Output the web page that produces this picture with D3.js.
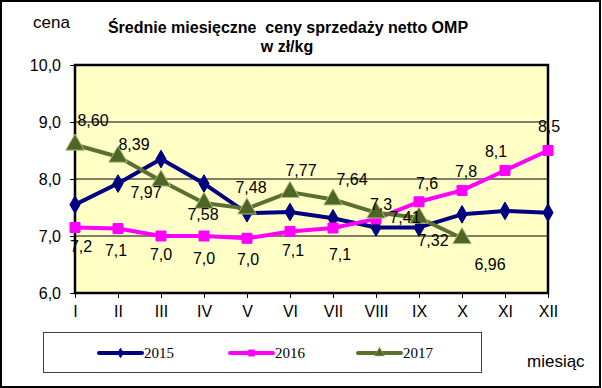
<!DOCTYPE html>
<html>
<head>
<meta charset="utf-8">
<script src="https://cdnjs.cloudflare.com/ajax/libs/d3/7.8.5/d3.min.js"></script>
<style>
  body { margin: 0; background: #fff; }
  svg { display: block; font-family: "Liberation Sans", Arial, sans-serif; }
</style>
</head>
<body>
<div id="chart"></div>
<script>
// data
var months = ["I", "II", "III", "IV", "V", "VI", "VII", "VIII", "IX", "X", "XI", "XII"]
var v2015 = [7.55, 7.92, 8.35, 7.92, 7.40, 7.42, 7.31, 7.15, 7.15, 7.38, 7.44, 7.41]
var v2016 = [7.15, 7.13, 7.0, 7.0, 6.96, 7.08, 7.14, 7.3, 7.6, 7.8, 8.15, 8.5]
var v2017 = [8.60, 8.39, 7.97, 7.58, 7.48, 7.77, 7.64, 7.41, 7.32, 6.96]
var lab2016 = ["7,2", "7,1", "7,0", "7,0", "7,0", "7,1", "7,1", "7,3", "7,6", "7,8", "8,1", "8,5"]
var lab2017 = ["8,60", "8,39", "7,97", "7,58", "7,48", "7,77", "7,64", "7,41", "7,32", "6,96"]
var yTicks = [6, 7, 8, 9, 10]

// label offsets (placement only)
var off2016 = [[6,19],[-2,22],[0,18],[0,22],[1,21],[3,19],[7,26],[5,-15],[8,-18],[4,-19],[-9,-19],[1,-24]]
var off2017 = [[18,-24],[16,-12],[-15,12],[-1,11],[4,-21],[11,-22],[19,-20],[29,5],[14,23],[28,26]]

var width = 602, height = 388
var svg = d3.select("#chart").append("svg").attr("width", width).attr("height", height)

// outer frame
svg.append("rect").attr("x", 1).attr("y", 1).attr("width", 599).attr("height", 386)
    .style("fill", "#fff").style("stroke", "#000").style("stroke-width", 2)

var x = d3.scalePoint().domain(months).range([75, 548])
var y = d3.scaleLinear().domain([6, 10]).range([293, 65])

// plot area
svg.append("rect").attr("x", 75).attr("y", y(10)).attr("width", 473).attr("height", y(6) - y(10))
    .style("fill", "#FFFFC6")

svg.selectAll(".grid").data(yTicks.slice(1, -1)).join("line")
    .attr("x1", 75).attr("x2", 548).attr("y1", d => y(d)).attr("y2", d => y(d))
    .style("stroke", "#000").style("stroke-width", 1)

svg.append("rect").attr("x", 75).attr("y", y(10)).attr("width", 473).attr("height", y(6) - y(10))
    .style("fill", "none").style("stroke", "#000").style("stroke-width", 2.5)

// axes
var fmt = d => d3.format(".1f")(d).replace(".", ",")
var yAxis = svg.append("g").attr("transform", "translate(75,0)")
    .call(d3.axisLeft(y).tickValues(yTicks).tickFormat(fmt).tickSize(5).tickPadding(9))
yAxis.select(".domain").remove()
yAxis.selectAll("line").style("stroke", "#000")
yAxis.selectAll("text").style("font-size", "16px").style("fill", "#000").style("font-family", "Liberation Sans, Arial")

var xAxis = svg.append("g").attr("transform", "translate(0,293)")
    .call(d3.axisBottom(x).tickSize(5).tickPadding(8))
xAxis.select(".domain").remove()
xAxis.selectAll("line").style("stroke", "#000")
xAxis.selectAll("text").style("font-size", "16px").style("fill", "#000").style("font-family", "Liberation Sans, Arial")

// series
var line = d3.line().x((d, i) => x(months[i])).y(d => y(d))

function drawSeries(vals, color, marker, mfill, mstroke) {
    svg.append("path").datum(vals).attr("d", line)
        .style("fill", "none").style("stroke", color).style("stroke-width", 4).style("stroke-linejoin", "round")
    svg.selectAll(null).data(vals).join("path")
        .attr("transform", (d, i) => "translate(" + x(months[i]) + "," + y(d) + ")")
        .attr("d", marker)
        .style("fill", mfill).style("stroke", mstroke).style("stroke-width", 1)
}

var diamond = d3.symbol().type(d3.symbolDiamond).size(90)()
var square = d3.symbol().type(d3.symbolSquare).size(100)()
var triangle = d3.symbol().type(d3.symbolTriangle).size(150)()

drawSeries(v2015, "#000080", diamond, "#000080", "#000080")
drawSeries(v2016, "#FF00FF", square, "#FF00FF", "#FF00FF")
drawSeries(v2017, "#5B7030", triangle, "#4F6425", "#A8C27A")

function drawLabels(vals, labs, offs) {
    svg.selectAll(null).data(vals).join("text")
        .attr("x", (d, i) => x(months[i]) + offs[i][0])
        .attr("y", (d, i) => y(d) + offs[i][1])
        .attr("dy", "0.35em")
        .attr("text-anchor", "middle")
        .style("font-size", "16px").style("fill", "#000")
        .text((d, i) => labs[i])
}
drawLabels(v2016, lab2016, off2016)
drawLabels(v2017, lab2017, off2017)

// titles
svg.append("text").attr("x", 288).attr("y", 33).attr("text-anchor", "middle")
    .style("font-size", "16px").style("font-weight", "bold").attr("xml:space", "preserve")
    .text("Średnie miesięczne  ceny sprzedaży netto OMP")
svg.append("text").attr("x", 287).attr("y", 52).attr("text-anchor", "middle")
    .style("font-size", "16px").style("font-weight", "bold")
    .text("w zł/kg")
svg.append("text").attr("x", 33).attr("y", 28).style("font-size", "17px").text("cena")
svg.append("text").attr("x", 527).attr("y", 367).style("font-size", "17px").text("miesiąc")

// legend
svg.append("rect").attr("x", 43.5).attr("y", 332.5).attr("width", 438).attr("height", 40)
    .style("fill", "#fff").style("stroke", "#404040").style("stroke-width", 1)

var legItems = [
    {name: "2015", color: "#000080", x0: 99, marker: d3.symbol().type(d3.symbolDiamond).size(30)(), mf: "#000080", ms: "#000080"},
    {name: "2016", color: "#FF00FF", x0: 230, marker: d3.symbol().type(d3.symbolSquare).size(40)(), mf: "#FF00FF", ms: "#FF00FF"},
    {name: "2017", color: "#5B7030", x0: 358, marker: d3.symbol().type(d3.symbolTriangle).size(45)(), mf: "#4F6425", ms: "#A8C27A"}
]
var leg = svg.selectAll(".leg").data(legItems).join("g").attr("transform", d => "translate(" + d.x0 + ",353)")
leg.append("line").attr("x1", 0).attr("x2", 43).style("stroke", d => d.color).style("stroke-width", 4).style("stroke-linecap", "round")
leg.append("path").attr("transform", "translate(21.5,0)").attr("d", d => d.marker)
    .style("fill", d => d.mf).style("stroke", d => d.ms).style("stroke-width", 0.5)
leg.append("text").attr("x", 45).attr("y", 5).style("font-family", "Liberation Serif, Times New Roman, serif")
    .style("font-size", "15px").text(d => d.name)
</script>
</body>
</html>
